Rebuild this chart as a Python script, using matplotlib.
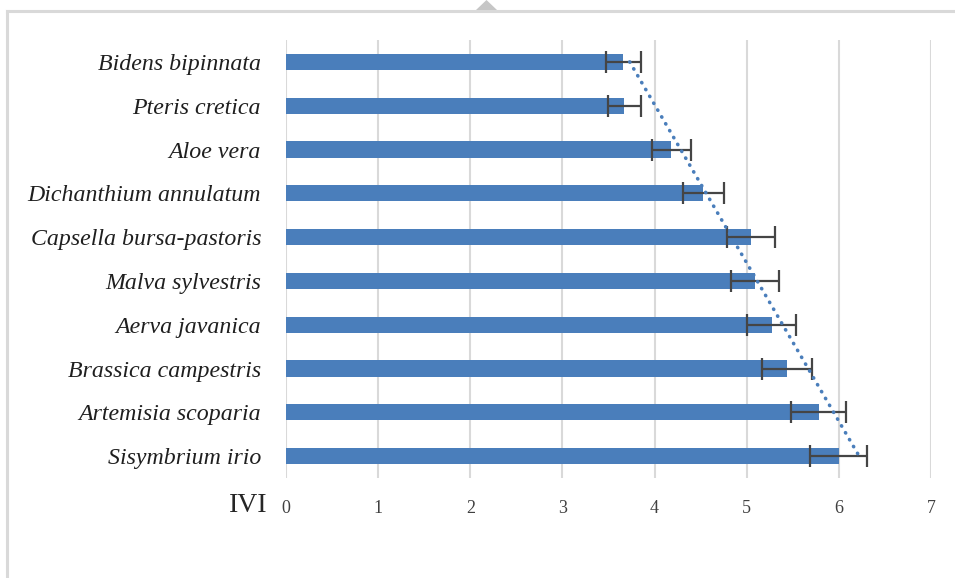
import matplotlib
matplotlib.use("Agg")
import matplotlib.pyplot as plt
from matplotlib.patches import Polygon
from matplotlib.lines import Line2D

# Species (top to bottom) with mean IVI and standard error
species = [
    "Bidens bipinnata",
    "Pteris cretica",
    "Aloe vera",
    "Dichanthium annulatum",
    "Capsella bursa-pastoris",
    "Malva sylvestris",
    "Aerva javanica",
    "Brassica campestris",
    "Artemisia scoparia",
    "Sisymbrium irio",
]
ivi = [3.66, 3.67, 4.18, 4.53, 5.05, 5.09, 5.27, 5.44, 5.78, 6.00]
ivi_err = [0.19, 0.18, 0.21, 0.22, 0.26, 0.26, 0.27, 0.27, 0.30, 0.31]
trend_ends = [3.73, 6.22]
xticks = [0, 1, 2, 3, 4, 5, 6, 7]

BAR = "#4a7ebb"
GRID = "#d9d9d9"
W, H = 955, 578

fig = plt.figure(figsize=(W / 100, H / 100), dpi=100)
ax = fig.add_axes([286 / W, 1 - 478 / H, (931 - 286) / W, (478 - 40) / H])

ypos = list(range(len(species)))
ax.barh(ypos, ivi, height=0.37, color=BAR, zorder=3)
ax.errorbar(ivi, ypos, xerr=ivi_err, fmt="none", ecolor="#454545",
            elinewidth=1.6, capsize=8, capthick=1.6, zorder=4)

# linear trend across the categories
ax.plot(trend_ends, [ypos[0], ypos[-1]], color=BAR, lw=2.6,
        linestyle=(0, (0.1, 2.1)), dash_capstyle="round", zorder=5)

ax.set_xlim(0, 7)
ax.set_ylim(len(species) - 0.5, -0.5)
ax.set_xticks(xticks)
ax.set_xticklabels([str(t) for t in xticks], fontsize=13,
                   fontfamily="Liberation Serif", color="#404040")
ax.set_yticks(ypos)
ax.set_yticklabels(species, fontsize=17.2, fontfamily="Liberation Serif",
                   style="italic", color="#1f1f1f")
ax.tick_params(axis="both", length=0)
ax.tick_params(axis="x", pad=16)
ax.tick_params(axis="y", pad=18)
for s in ax.spines.values():
    s.set_visible(False)
ax.grid(axis="x", color=GRID, lw=1.5, zorder=0)
ax.set_axisbelow(True)

fig.text(248 / W, 1 - 505 / H, "IVI", ha="center", va="center",
         fontsize=20, fontfamily="Liberation Serif", color="#262626")

# frame edges and the pointer tab at the top
fig.add_artist(Line2D([7 / W, 1.0], [1 - 11 / H, 1 - 11 / H],
                      transform=fig.transFigure, color=GRID, lw=2.2))
fig.add_artist(Line2D([7 / W, 7 / W], [1 - 11 / H, 0.0],
                      transform=fig.transFigure, color=GRID, lw=2.2))
fig.add_artist(Polygon([[476 / W, 1 - 10 / H], [497 / W, 1 - 10 / H],
                        [486.5 / W, 1.0]], closed=True,
                       transform=fig.transFigure, color="#c6c6c6", lw=0))

fig.savefig("out.png", dpi=100)
